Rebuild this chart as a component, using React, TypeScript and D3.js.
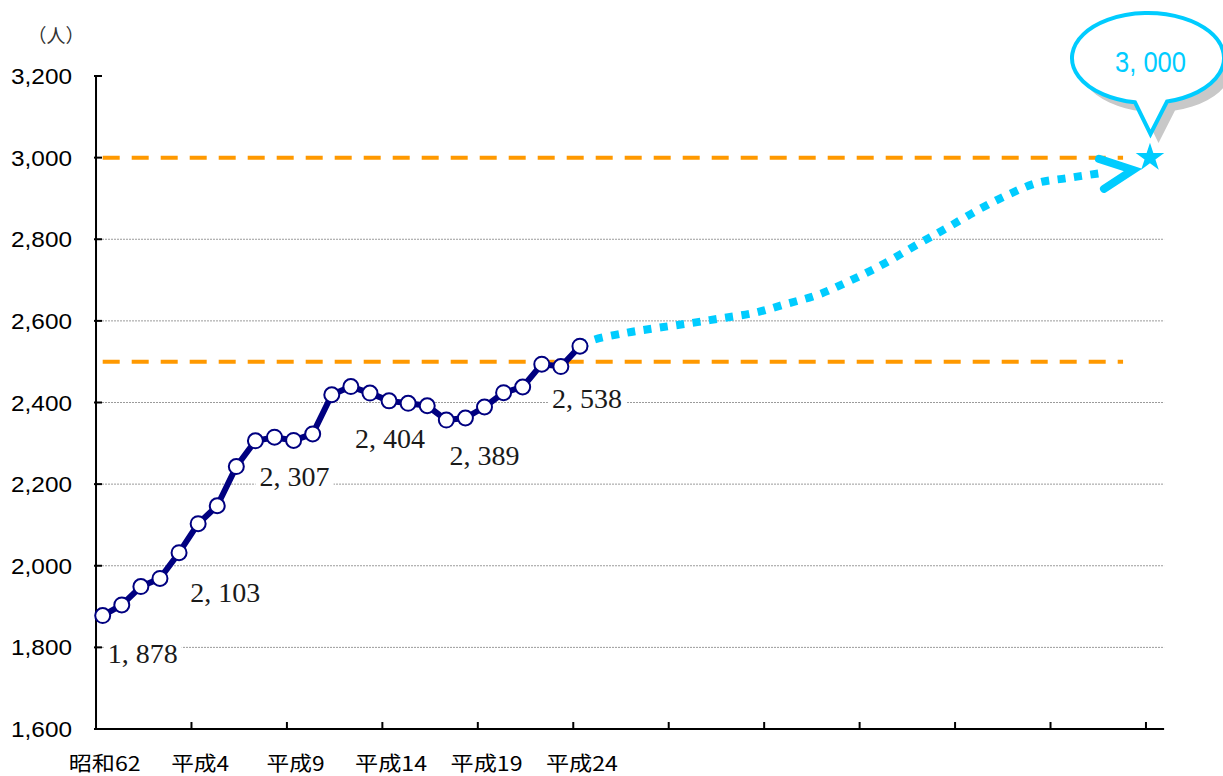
import React from "react";
import * as d3 from "d3";

// ---- data ----
const xTickLabels = ["昭和62", "平成4", "平成9", "平成14", "平成19", "平成24"];
const xTickLabelIdx = [0, 5, 10, 15, 20, 25];
const values = [
  1878, 1904, 1949, 1969, 2032, 2103, 2147, 2243, 2306, 2315, 2307, 2323, 2419,
  2439, 2423, 2404, 2398, 2392, 2357, 2362, 2389, 2424, 2438, 2494, 2488, 2538,
];
const labeledIdx = [0, 5, 10, 15, 20, 25];
const yTicks = [1600, 1800, 2000, 2200, 2400, 2600, 2800, 3000, 3200];
const gridValues = [1800, 2000, 2200, 2400, 2600, 2800];
const targetLines = [3000, 2500];
const projIdx = [25, 25.68, 27.46, 29.09, 30.87, 32.49, 34.17, 35.85, 37.47, 39.04, 40.61, 42.82, 44.24, 45.86, 47.42, 48.94, 50.56, 52.4];
const projVal = [2538, 2553, 2571, 2583, 2595, 2607, 2620, 2642, 2664, 2696, 2732, 2791, 2828, 2872, 2909, 2938, 2950, 2963];
const arrowTipIdx = 53.97;
const arrowTipVal = 2970;
const goalIdx = 54.86;
const goalValue = 3000;
const goalText = "3, 000";
const unitLabel = "（人）";

// ---- layout ----
const W = 1223;
const H = 776;
const labelOffsets = [
  [5, 47],
  [-8, 78],
  [-34, 46],
  [-34, 47],
  [-35, 58],
  [-28, 62],
];

const NAVY = "#000080";
const CYAN = "#00CCFF";
const ORANGE = "#FF9900";

export default function App() {
  const x = d3.scaleLinear().domain([0, 55]).range([102.7, 102.7 + 55 * 19.09]);
  const y = d3.scaleLinear().domain([1600, 3200]).range([729, 76]);
  const axisX0 = x(-0.35);
  const axisX1 = x(55.6);

  const line = d3
    .line<number>()
    .x((_, i) => x(i))
    .y((d) => y(d));

  const projLine = d3
    .line<number>()
    .x((_, i) => x(projIdx[i]))
    .y((d) => y(d))
    .curve(d3.curveCatmullRom.alpha(0.5));

  const fmt = (v: number) => d3.format(",")(v).replace(",", ", ");

  const starPath = d3.symbol(d3.symbolStar, (15 * 15) / 0.8908130915292852)()!;

  const tipX = x(arrowTipIdx);
  const tipY = y(arrowTipVal);

  // bubble
  const bcx = 1148, bcy = 58, brx = 76, bry = 45;
  const ptOnEllipse = (px: number) => {
    const dx = (px - bcx) / brx;
    return bcy + bry * Math.sqrt(1 - dx * dx);
  };
  const lx = 1135, rx2 = 1167;
  const bubblePath = `M${rx2},${ptOnEllipse(rx2)} A${brx},${bry} 0 1 0 ${lx},${ptOnEllipse(lx)} L1150.5,134 Z`;

  const xLabelLen = (s: string) => {
    let n = 0;
    for (const ch of s) n += /[0-9]/.test(ch) ? 14 : 22;
    return n;
  };

  return (
    <svg
      width={W}
      height={H}
      style={{ position: "absolute", left: 0, top: 0, background: "#fff" }}
    >
      <rect x={0} y={0} width={W} height={H} fill="#fff" />
      {/* gridlines */}
      {gridValues.map((v) => (
        <line
          key={v}
          x1={axisX0}
          x2={axisX1}
          y1={y(v)}
          y2={y(v)}
          stroke="#9a9a9a"
          strokeWidth={1}
          strokeDasharray="2 1"
        />
      ))}
      {/* target dashed lines */}
      {targetLines.map((v) => (
        <line
          key={v}
          x1={x(0)}
          x2={x(53.45)}
          y1={y(v)}
          y2={y(v)}
          stroke={ORANGE}
          strokeWidth={4}
          strokeDasharray="17 12"
        />
      ))}
      {/* data labels */}
      {labeledIdx.map((idx, k) => {
        const tx = x(idx) + labelOffsets[k][0];
        const ty = y(values[idx]) + labelOffsets[k][1];
        return (
          <g key={idx}>
            <rect x={tx - 4} y={ty - 22} width={78} height={28} fill="#fff" />
            <text
              x={tx}
              y={ty}
              fontFamily="'Liberation Serif', 'DejaVu Serif', serif"
              fontSize={27}
              fill="#1a1a1a"
              textLength={70}
              lengthAdjust="spacingAndGlyphs"
            >
              {fmt(values[idx])}
            </text>
          </g>
        );
      })}
      {/* axes */}
      <line x1={axisX0} x2={axisX0} y1={y(3200)} y2={y(1600)} stroke="#000" strokeWidth={2} />
      <line x1={axisX0 - 1} x2={axisX1} y1={y(1600)} y2={y(1600)} stroke="#000" strokeWidth={2} />
      {yTicks.map((v) => (
        <g key={v}>
          <line x1={axisX0 - 2} x2={axisX0 + 6} y1={y(v)} y2={y(v)} stroke="#000" strokeWidth={2} />
          <text
            x={72}
            y={y(v) + 8}
            textAnchor="end"
            fontFamily="'Liberation Sans', Arial, sans-serif"
            fontSize={22}
            fill="#000"
            textLength={61}
            lengthAdjust="spacingAndGlyphs"
          >
            {d3.format(",")(v)}
          </text>
        </g>
      ))}
      {d3.range(1, 12).map((k) => (
        <line
          key={k}
          x1={x(5 * k - 0.35)}
          x2={x(5 * k - 0.35)}
          y1={y(1600)}
          y2={y(1600) - 7}
          stroke="#000"
          strokeWidth={2}
        />
      ))}
      {xTickLabels.map((s, k) => (
        <text
          key={s}
          x={x(xTickLabelIdx[k]) + 2}
          y={771}
          textAnchor="middle"
          fontFamily="'Noto Sans CJK JP', sans-serif"
          fontSize={20}
          fill="#000"
          textLength={xLabelLen(s)}
          lengthAdjust="spacingAndGlyphs"
        >
          {s}
        </text>
      ))}
      <text
        x={56}
        y={43}
        textAnchor="middle"
        fontFamily="'Noto Sans CJK JP', sans-serif"
        fontSize={19}
        fill="#333"
      >
        {unitLabel}
      </text>
      {/* projection */}
      <path
        d={projLine(projVal)!}
        fill="none"
        stroke={CYAN}
        strokeWidth={8}
        strokeDasharray="8 8.5"
      />
      <path
        d={`M${tipX - 34},${tipY - 11} L${tipX},${tipY} L${tipX - 29},${tipY + 19}`}
        fill="none"
        stroke={CYAN}
        strokeWidth={8}
        strokeLinecap="round"
        strokeLinejoin="miter"
      />
      {/* data line */}
      <path d={line(values)!} fill="none" stroke={NAVY} strokeWidth={6} strokeLinejoin="round" />
      {values.map((v, i) => (
        <circle key={i} cx={x(i)} cy={y(v)} r={7.5} fill="#fff" stroke={NAVY} strokeWidth={2} />
      ))}
      {/* goal star */}
      <path d={starPath} transform={`translate(${x(goalIdx)},${y(goalValue)})`} fill={CYAN} />
      {/* bubble */}
      <path d={bubblePath} transform="translate(8,9)" fill="#c8c8c8" />
      <path d={bubblePath} fill="#fff" stroke={CYAN} strokeWidth={4} strokeLinejoin="miter" />
      <text
        x={1150.5}
        y={72}
        textAnchor="middle"
        fontFamily="'Liberation Sans', Arial, sans-serif"
        fontSize={30}
        fill={CYAN}
        textLength={71}
        lengthAdjust="spacingAndGlyphs"
      >
        {goalText}
      </text>
    </svg>
  );
}
